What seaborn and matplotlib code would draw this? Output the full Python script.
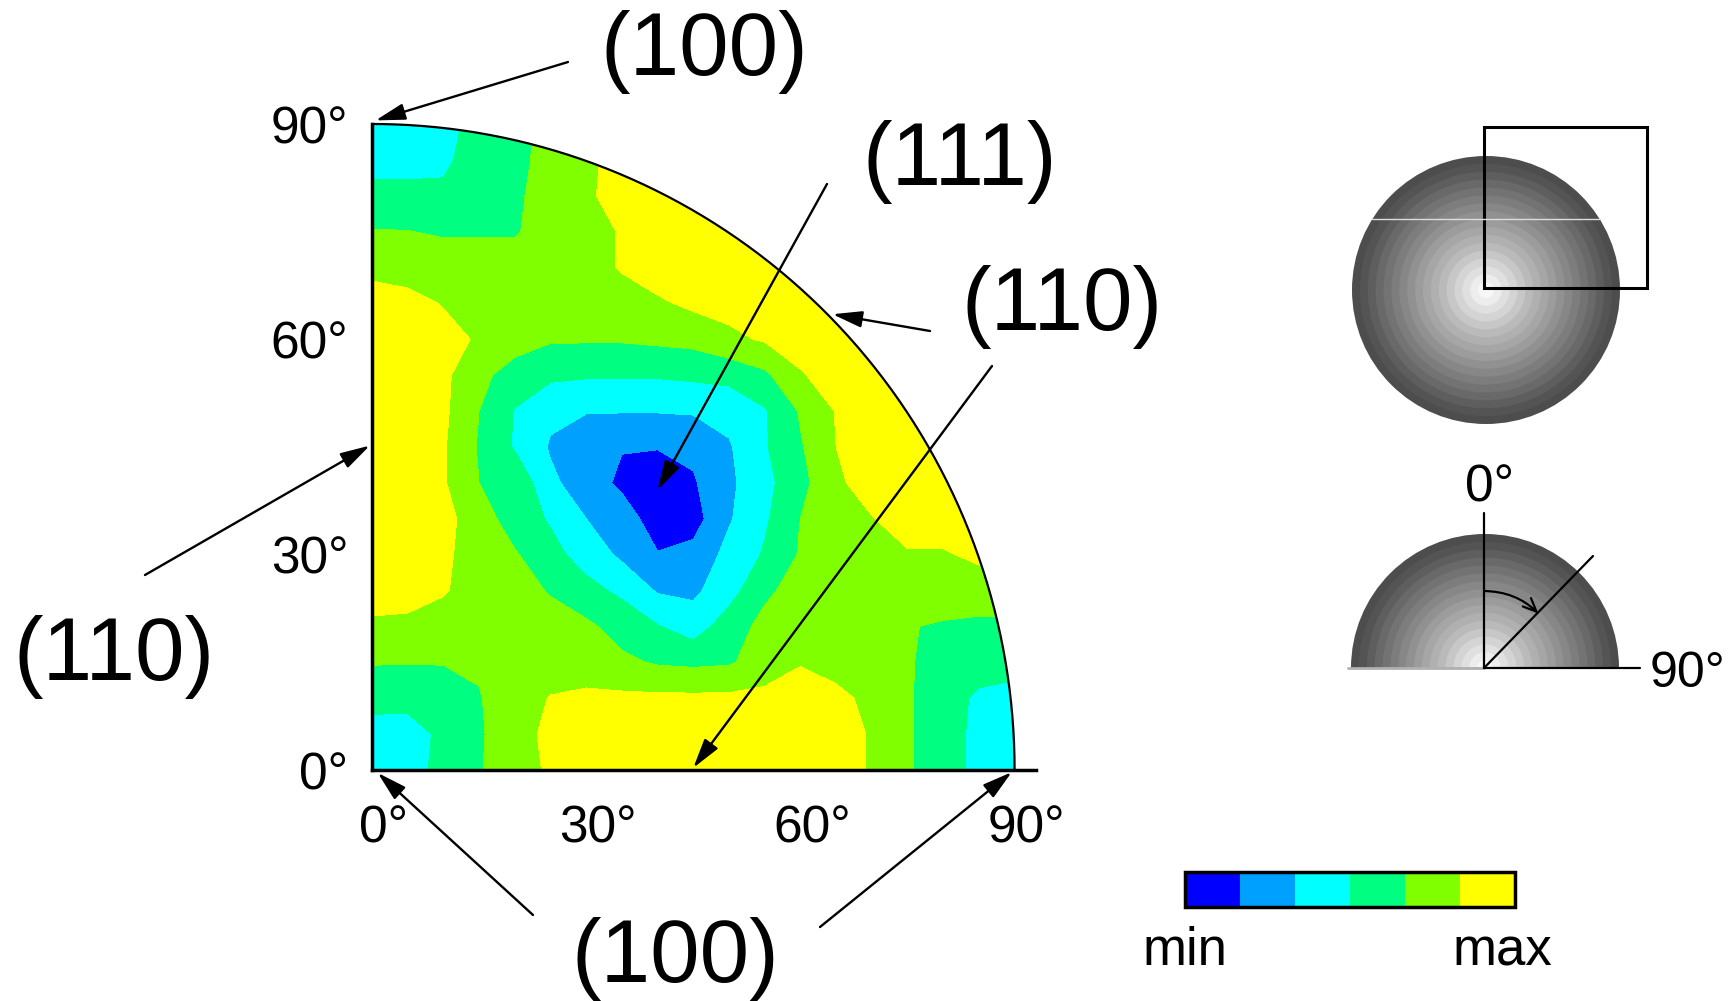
import numpy as np
import matplotlib
matplotlib.use("Agg")
import matplotlib.pyplot as plt
import matplotlib.transforms as mtransforms
from matplotlib import font_manager
from matplotlib.patches import Wedge, Circle, Rectangle
import seaborn as sns

# ==========================================
# DATA: pole figure
# (value n..n+1 -> colour band n, 0 = min, 5 = max)
# ==========================================
angle_x = [0, 5, 10, 15, 20, 25, 30, 35, 40, 45, 50, 55, 60, 65, 70, 75, 80, 85, 90]
angle_y = [90, 85, 80, 75, 70, 65, 60, 55, 50, 45, 40, 35, 30, 25, 20, 15, 10, 5, 0]

intensity = [
    [2.5, 2.5, 2.5, 3.5, 3.5, 4.5, 4.5, 5.5, 5.5, 5.5, 5.5, 5.5, 5.5, 5.5, 5.5, 5.5, 5.5, 5.5, 5.5],   # 90
    [2.5, 2.5, 2.8, 3.5, 3.6, 4.5, 4.7, 5.5, 5.5, 5.5, 5.5, 5.5, 5.5, 5.5, 5.5, 5.5, 5.5, 5.5, 5.5],   # 85
    [3.4, 3.4, 3.2, 3.5, 3.8, 4.5, 4.8, 5.5, 5.5, 5.5, 5.5, 5.5, 5.5, 5.5, 5.5, 5.5, 5.5, 5.5, 5.5],   # 80
    [4.05, 4.02, 3.9, 3.9, 3.9, 4.5, 4.5, 5.1, 5.5, 5.5, 5.5, 5.5, 5.5, 5.5, 5.5, 5.5, 5.5, 5.5, 5.5], # 75
    [4.7, 4.6, 4.5, 4.5, 4.5, 4.5, 4.5, 5.1, 5.5, 5.5, 5.5, 5.5, 5.5, 5.5, 5.5, 5.5, 5.5, 5.5, 5.5],   # 70
    [5.5, 5.3, 4.95, 4.5, 4.5, 4.5, 4.5, 4.5, 4.85, 5.2, 5.3, 5.5, 5.5, 5.5, 5.5, 5.5, 5.5, 5.5, 5.5], # 65
    [5.5, 5.5, 5.3, 4.9, 4.5, 4.1, 4.1, 4.1, 4.2, 4.3, 4.8, 5.1, 5.5, 5.5, 5.5, 5.5, 5.5, 5.5, 5.5],   # 60
    [5.5, 5.5, 5.2, 4.3, 3.5, 3.2, 3.1, 3.1, 3.1, 3.2, 3.3, 3.8, 4.9, 5.5, 5.5, 5.5, 5.5, 5.5, 5.5],   # 55
    [5.5, 5.5, 5.2, 4.0, 2.95, 2.2, 2.05, 2.05, 2.05, 2.1, 2.3, 2.9, 4.1, 5.05, 5.5, 5.5, 5.5, 5.5, 5.5],  # 50
    [5.5, 5.5, 5.1, 3.9, 2.9, 1.9, 1.4, 1.05, 1.05, 1.2, 1.9, 2.9, 3.9, 5.0, 5.5, 5.5, 5.5, 5.5, 5.5],  # 45
    [5.5, 5.5, 5.1, 4.0, 3.8, 2.2, 1.5, 0.8, 0.4, 0.9, 1.8, 2.7, 3.7, 4.8, 5.5, 5.5, 5.5, 5.5, 5.5],    # 40
    [5.5, 5.5, 5.3, 4.5, 3.5, 2.9, 2.0, 1.5, 0.5, 0.6, 1.9, 2.85, 4.0, 4.5, 4.95, 5.5, 5.5, 5.5, 5.5], # 35
    [5.5, 5.5, 5.2, 4.5, 4.1, 3.3, 2.6, 1.8, 1.05, 1.3, 2.3, 3.1, 4.1, 4.5, 4.5, 4.9, 4.9, 5.2, 5.5],  # 30
    [5.5, 5.5, 5.1, 4.5, 4.5, 3.9, 3.3, 2.8, 1.9, 1.8, 2.6, 3.8, 4.4, 4.5, 4.5, 4.5, 4.5, 4.5, 4.5],   # 25
    [4.8, 4.7, 4.5, 4.5, 4.5, 4.5, 4.2, 3.6, 3.05, 2.5, 3.5, 4.3, 4.5, 4.5, 4.5, 4.05, 3.9, 3.8, 3.8], # 20
    [4.05, 4.05, 4.05, 4.1, 4.5, 4.5, 4.5, 4.2, 3.9, 3.8, 3.9, 4.4, 4.95, 4.7, 4.5, 4.1, 3.6, 3.5, 3.5],  # 15
    [3.4, 3.3, 3.4, 3.95, 4.5, 5.05, 5.2, 5.2, 5.2, 5.2, 5.2, 5.3, 5.4, 5.2, 4.8, 4.1, 3.5, 2.8, 2.5],  # 10
    [2.5, 2.6, 3.2, 3.9, 4.5, 5.3, 5.5, 5.5, 5.5, 5.5, 5.5, 5.5, 5.5, 5.5, 4.9, 4.1, 3.5, 2.7, 2.5],   # 5
    [2.5, 2.6, 3.3, 3.95, 4.4, 5.2, 5.5, 5.5, 5.5, 5.5, 5.5, 5.5, 5.5, 5.5, 4.9, 4.1, 3.5, 2.7, 2.5],  # 0
]

level_bounds = [0, 1, 2, 3, 4, 5, 6]
level_colors = ["#0000ff", "#00a0ff", "#00ffff", "#00ff80", "#80ff00", "#ffff00"]

tick_angles = [0, 30, 60, 90]
tick_labels = ["0°", "30°", "60°", "90°"]

# grey rings of the sphere sketch, outside -> centre
sphere_shades = [0.30, 0.33, 0.37, 0.41, 0.45, 0.49, 0.53, 0.57, 0.61,
                 0.65, 0.69, 0.73, 0.78, 0.83, 0.88, 0.93, 0.97]

# ==========================================
# STYLE
# ==========================================
sns.set_theme(style="white")
names = {f.name for f in font_manager.fontManager.ttflist}
narrow = "Liberation Sans Narrow" if "Liberation Sans Narrow" in names else "Liberation Sans"
plt.rcParams["font.family"] = ["Liberation Sans", "DejaVu Sans"]
for key in ["text.color", "xtick.color", "ytick.color", "axes.labelcolor", "axes.edgecolor"]:
    plt.rcParams[key] = "black"

W, H = 1733, 1001
fig = plt.figure(figsize=(W / 100, H / 100), dpi=100)


def fx(px):
    return px / W


def fy(py):
    return 1 - py / H


# --- main quarter pole figure ---
ax = fig.add_axes([fx(372), fy(770), 664 / W, 646 / H])
X, Y = np.meshgrid(angle_x, angle_y[::-1])
Z = np.array(intensity)[::-1]
cs = ax.contourf(X, Y, Z, levels=level_bounds, colors=level_colors)
cs.set_clip_path(Wedge((0, 0), 90, 0, 90, transform=ax.transData))

theta = np.linspace(0, np.pi / 2, 300)
ax.plot(90 * np.cos(theta), 90 * np.sin(theta), color="black", lw=1.6, clip_on=False)

ax.set_xlim(0, 93)
ax.set_ylim(0, 90)
ax.set_facecolor("none")
sns.despine(ax=ax)
for side in ["left", "bottom"]:
    ax.spines[side].set_linewidth(2.5)
    ax.spines[side].set_color("black")
ax.set_xticks(tick_angles)
ax.set_yticks(tick_angles)
ax.set_xticklabels(tick_labels, fontsize=37, family=narrow)
ax.set_yticklabels(tick_labels, fontsize=37, family=narrow)
ax.tick_params(axis="both", direction="out", length=14, width=1.5, colors="black")
ax.tick_params(axis="x", pad=11)
ax.tick_params(axis="y", pad=3)
shift = mtransforms.ScaledTranslation(0.12, 0, fig.dpi_scale_trans)
for lab in ax.get_xticklabels():
    lab.set_transform(lab.get_transform() + shift)

# --- Miller index labels and arrows ---
labels = [("(100)", 704, 75), ("(111)", 960, 185), ("(110)", 1062, 330),
          ("(110)", 114, 680), ("(100)", 675, 982)]
for txt, px, py in labels:
    fig.text(fx(px), fy(py), txt, fontsize=64, ha="center", va="baseline")

arrows = [((568, 62), (0.5, 90.5)), ((827, 184), (40, 39)),
          ((930, 331), (64.5, 63.5)), ((992, 366), (45, 0.3)),
          ((145, 575), (-0.3, 45.2)), ((533, 915), (0.8, -0.4)),
          ((820, 927), (89.6, -0.3))]
for (tx, ty), tip in arrows:
    ax.annotate("", xy=tip, xycoords="data", xytext=(fx(tx), fy(ty)),
                textcoords="figure fraction", annotation_clip=False,
                arrowprops=dict(arrowstyle="-|>,head_length=1.8,head_width=0.5",
                                mutation_scale=10, lw=1.7, color="black",
                                shrinkA=0, shrinkB=0))

# --- colour scale ---
cax = fig.add_axes([fx(1185), fy(907), 330 / W, 35 / H])
cb = fig.colorbar(cs, cax=cax, orientation="horizontal")
cb.set_ticks([])
cb.outline.set_linewidth(2.5)
cb.outline.set_edgecolor("black")
fig.text(fx(1185), fy(965), "min", fontsize=38, ha="center", va="baseline")
fig.text(fx(1502), fy(965), "max", fontsize=38, ha="center", va="baseline")

# --- sphere sketch (coordinates in figure pixels) ---
sax = fig.add_axes([fx(1330), fy(720), 400 / W, 620 / H])
sax.set_xlim(1330, 1730)
sax.set_ylim(720, 100)
sax.axis("off")

R = 134
n = len(sphere_shades)
for i, g in enumerate(sphere_shades):
    r = R * (n - i) / n
    sax.add_patch(Circle((1486, 290), r, facecolor=str(g), edgecolor="none"))
    sax.add_patch(Wedge((1485, 668), r, 180, 360, facecolor=str(g), edgecolor="none"))
sax.plot([1372, 1600], [219, 219], color="#dddddd", lw=1)
sax.add_patch(Rectangle((1484, 127), 163, 161, fill=False, edgecolor="black", lw=2.2))

sax.plot([1348, 1484], [668, 668], color="#b0b0b0", lw=2)
sax.plot([1484, 1484], [668, 513], color="black", lw=1.6)
sax.plot([1484, 1640], [668, 668], color="black", lw=1.6)
sax.plot([1484, 1593], [668, 556], color="black", lw=1.6)
a0, a1 = np.deg2rad(270), np.deg2rad(315)
sax.annotate("", xy=(1484 + 77 * np.cos(a1), 668 + 77 * np.sin(a1)),
             xytext=(1484 + 77 * np.cos(a0), 668 + 77 * np.sin(a0)),
             arrowprops=dict(arrowstyle="->,head_length=0.8,head_width=0.35",
                             mutation_scale=12, lw=1.6, color="black",
                             shrinkA=0, shrinkB=0,
                             connectionstyle="arc3,rad=-0.2"))
sax.text(1490, 502, "0°", fontsize=37, family=narrow, ha="center", va="baseline")
sax.text(1650, 687, "90°", fontsize=36, family=narrow, ha="left", va="baseline")

fig.savefig("out.png", dpi=100, facecolor="white")
